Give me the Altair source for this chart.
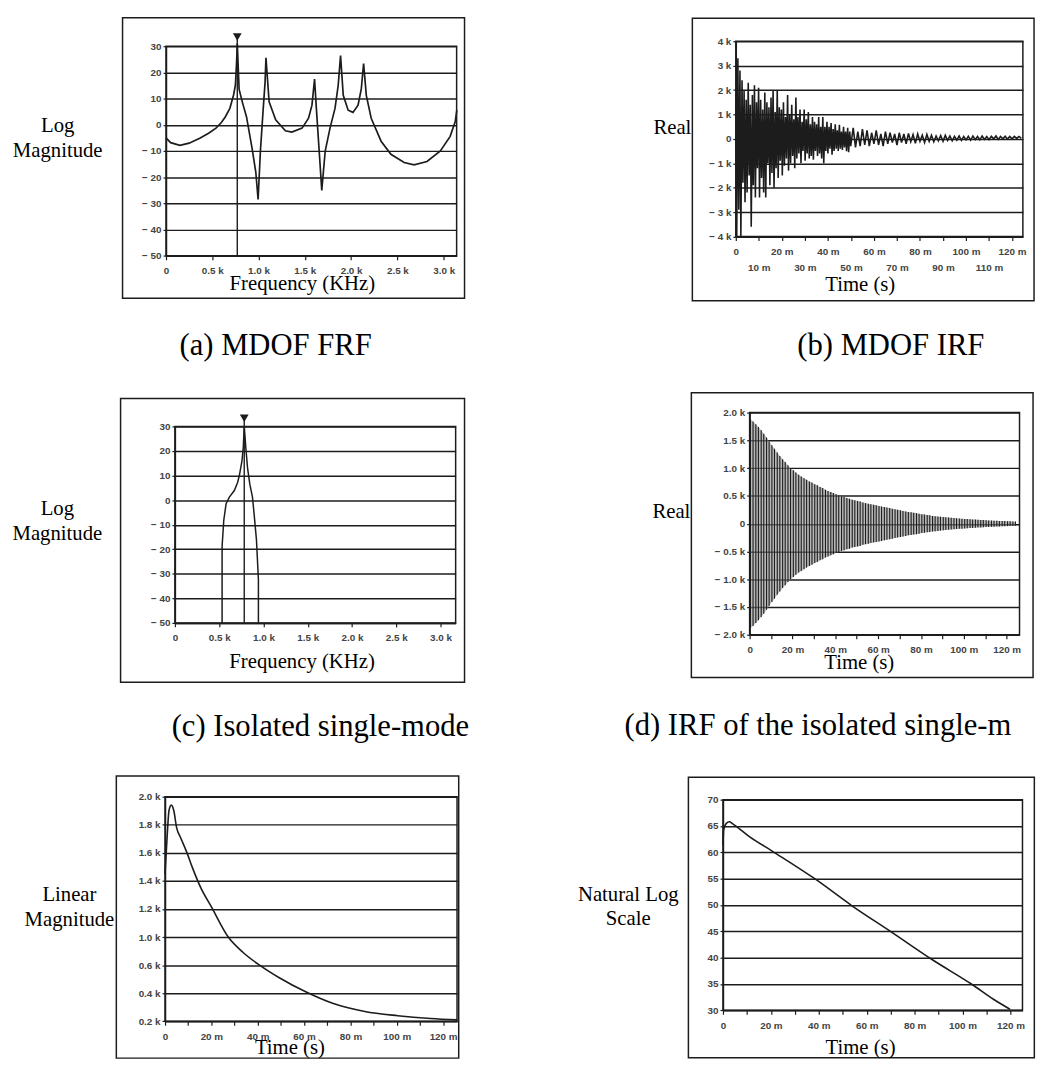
import altair as alt
import pandas as pd

# ---------------- data ----------------
# (a) MDOF FRF : frequency (kHz) vs log magnitude (dB)
frf_khz = [0.0, 0.05, 0.15, 0.25, 0.37, 0.46, 0.54, 0.6, 0.64, 0.69,
           0.73, 0.75, 0.764, 0.77, 0.79, 0.83, 0.87, 0.93, 0.97, 0.995,
           1.02, 1.05, 1.07, 1.08, 1.114, 1.185, 1.29, 1.36, 1.47, 1.54,
           1.577, 1.605, 1.625, 1.655, 1.683, 1.72, 1.772, 1.826, 1.86, 1.886,
           1.915, 1.968, 2.02, 2.075, 2.11, 2.135, 2.164, 2.217, 2.324, 2.43,
           2.573, 2.68, 2.82, 2.964, 3.07, 3.125, 3.142]
frf_db = [-5.0, -6.8, -7.8, -7.0, -5.0, -3.2, -1.3, 1.0, 3.0, 6.3,
          11.4, 15.2, 25.0, 31.0, 13.5, 8.0, 3.0, -9.0, -18.0, -28.5,
          -10.0, 6.0, 16.0, 25.6, 8.75, 1.9, -2.25, -2.75, -1.25, 2.5,
          7.5, 17.5, 6.0, -10.0, -25.0, -10.0, -1.25, 6.25, 15.0, 26.4,
          11.25, 5.6, 4.75, 7.5, 13.75, 23.4, 11.25, 2.5, -6.25, -11.25,
          -14.4, -15.25, -14.0, -10.0, -4.4, 1.25, 5.6]
frf_marker_khz = [0.77]
frf_marker_db = [33.5]

# (b) MDOF IRF : time (ms) vs real (k)
irf_ms = [0.0, 0.4, 0.9, 1.3, 1.8, 2.2, 2.7, 3.1, 3.6, 4.0,
          4.5, 4.9, 5.4, 5.8, 6.3, 6.7, 7.2, 7.6, 8.1, 8.5,
          9.0, 9.4, 9.9, 10.3, 10.8, 11.2, 11.7, 12.1, 12.6, 13.0,
          13.5, 13.9, 14.4, 14.8, 15.3, 15.7, 16.2, 16.6, 17.1, 17.5,
          18.0, 18.4, 18.9, 19.3, 19.8, 20.2, 20.7, 21.1, 21.6, 22.0,
          22.5, 22.9, 23.4, 23.8, 24.3, 24.7, 25.2, 25.6, 26.1, 26.5,
          27.0, 27.4, 27.9, 28.3, 28.8, 29.2, 29.7, 30.1, 30.6, 31.0,
          31.5, 31.9, 32.4, 32.8, 33.3, 33.7, 34.2, 34.6, 35.1, 35.5,
          36.0, 36.4, 36.9, 37.3, 37.8, 38.2, 38.7, 39.1, 39.6, 40.0,
          40.5, 40.9, 41.4, 41.8, 42.3, 42.7, 43.2, 43.6, 44.1, 44.5,
          45.0, 45.4, 45.9, 46.3, 46.8, 47.2, 47.7, 48.1, 48.6, 49.0,
          49.5, 49.9,
          51, 52, 53, 54, 55, 56, 57, 58, 59, 60,
          61, 62, 63, 64, 65, 66, 67, 68, 69, 70,
          71, 72, 73, 74, 75, 76, 77, 78, 79, 80,
          81, 82, 83, 84, 85, 86, 87, 88, 89, 90,
          91, 92, 93, 94, 95, 96, 97, 98, 99, 100,
          101, 102, 103, 104, 105, 106, 107, 108, 109, 110,
          111, 112, 113, 114, 115, 116, 117, 118, 119, 120,
          121, 122, 123, 124]
irf_k = [1.7, -4.0, 3.3, -2.9, 2.8, -4.0, 2.4, -1.8, 2.0, -2.6,
         1.6, -2.2, 2.3, -1.5, 1.4, -3.6, 1.8, -1.9, 2.2, -2.4,
         1.5, -1.2, 2.1, -2.4, 1.6, -1.6, 1.2, -2.2, 1.9, -2.4,
         1.5, -1.0, 1.3, -1.9, 1.7, -1.4, 2.0, -2.0, 1.1, -1.2,
         2.0, -1.6, 1.3, -0.9, 1.2, -1.5, 1.5, -1.1, 0.9, -0.8,
         1.8, -1.3, 1.0, -1.0, 1.4, -0.7, 0.8, -1.2, 1.7, -0.8,
         0.9, -0.6, 1.2, -1.0, 0.7, -0.5, 1.2, -0.9, 0.8, -0.6,
         1.1, -0.8, 0.6, -0.7, 0.9, -0.85, 0.7, -0.5, 0.6, -0.7,
         0.9, -0.6, 0.5, -0.8, 0.9, -1.0, 0.5, -0.5, 0.7, -0.6,
         0.5, -0.4, 0.65, -0.65, 0.4, -0.5, 0.6, -0.4, 0.35, -0.5,
         0.58, -0.4, 0.3, -0.45, 0.5, -0.35, 0.3, -0.5, 0.45, -0.55,
         0.3, -0.3,
         0.45, -0.35, 0.3, -0.3, 0.4, -0.25, 0.35, -0.3, 0.25, -0.2,
         0.35, -0.25, 0.2, -0.3, 0.3, -0.2, 0.25, -0.15, 0.2, -0.25,
         0.25, -0.15, 0.2, -0.2, 0.22, -0.12, 0.18, -0.18, 0.2, -0.1,
         0.15, -0.15, 0.18, -0.1, 0.15, -0.12, 0.12, -0.08, 0.14, -0.1,
         0.15, -0.06, 0.12, -0.08, 0.1, -0.05, 0.12, -0.06, 0.1, -0.04,
         0.11, -0.05, 0.12, -0.03, 0.1, -0.04, 0.12, -0.02, 0.1, -0.03,
         0.11, 0.0, 0.12, -0.02, 0.1, 0.0, 0.11, -0.01, 0.1, 0.0,
         0.1, 0.02, 0.1, 0.03]

# (c) Isolated single mode : frequency (kHz) vs log magnitude (dB)
sm_khz = [0.533, 0.533, 0.552, 0.578, 0.615, 0.671, 0.708, 0.727, 0.757, 0.772,
          0.783, 0.801, 0.82, 0.846, 0.876, 0.894, 0.921, 0.943, 0.943]
sm_db = [-50.0, -18.9, -8.2, -1.5, 1.2, 3.9, 7.2, 9.9, 15.9, 21.3,
         30.0, 21.3, 13.2, 6.5, 1.2, -5.5, -16.2, -32.3, -50.0]
sm_marker_khz = [0.783]
sm_marker_db = [33.3]

# (d) IRF of the isolated single mode : oscillation peaks, time (ms) and amplitude (k)
sm_irf_ms = [0.4, 1.6, 2.9, 4.1, 5.4, 6.6, 7.9, 9.1, 10.4, 11.6,
             12.9, 14.1, 15.4, 16.6, 17.9, 19.1, 20.4, 21.6, 22.9, 24.1,
             25.4, 26.6, 27.9, 29.1, 30.4, 31.6, 32.9, 34.1, 35.4, 36.6,
             37.9, 39.1, 40.4, 41.6, 42.9, 44.1, 45.4, 46.6, 47.9, 49.1,
             50.4, 51.6, 52.9, 54.1, 55.4, 56.6, 57.9, 59.1, 60.4, 61.6,
             62.9, 64.1, 65.4, 66.6, 67.9, 69.1, 70.4, 71.6, 72.9, 74.1,
             75.4, 76.6, 77.9, 79.1, 80.4, 81.6, 82.9, 84.1, 85.4, 86.6,
             87.9, 89.1, 90.4, 91.6, 92.9, 94.1, 95.4, 96.6, 97.9, 99.1,
             100.4, 101.6, 102.9, 104.1, 105.4, 106.6, 107.9, 109.1, 110.4, 111.6,
             112.9, 114.1, 115.4, 116.6, 117.9, 119.1, 120.4, 121.6, 122.9, 124.1]
sm_irf_amp_k = [1.88, 1.84, 1.79, 1.74, 1.68, 1.62, 1.55, 1.48, 1.41, 1.35,
                1.28, 1.22, 1.16, 1.11, 1.05, 1.00, 0.96, 0.92, 0.88, 0.85,
                0.82, 0.79, 0.76, 0.74, 0.71, 0.69, 0.66, 0.64, 0.61, 0.59,
                0.57, 0.55, 0.53, 0.51, 0.49, 0.48, 0.46, 0.45, 0.43, 0.42,
                0.41, 0.40, 0.38, 0.37, 0.36, 0.35, 0.34, 0.33, 0.32, 0.31,
                0.30, 0.29, 0.28, 0.27, 0.26, 0.25, 0.24, 0.23, 0.22, 0.21,
                0.205, 0.195, 0.19, 0.18, 0.17, 0.165, 0.155, 0.15, 0.14, 0.135,
                0.13, 0.125, 0.12, 0.115, 0.11, 0.105, 0.10, 0.097, 0.093, 0.09,
                0.086, 0.083, 0.08, 0.076, 0.073, 0.07, 0.067, 0.064, 0.061, 0.058,
                0.056, 0.054, 0.052, 0.05, 0.048, 0.046, 0.044, 0.042, 0.04, 0.039]

# (e) linear magnitude envelope : time (ms) vs magnitude (k, as labelled)
env_ms = [0.0, 1.0, 1.7, 2.7, 3.8, 5.0, 6.7, 9.5, 11.7, 15.2,
          20.2, 27.3, 33.7, 40.8, 49.3, 60.7, 72.0, 86.2, 100.4, 114.6, 126.0]
env_k = [1.45, 1.74, 1.90, 1.94, 1.90, 1.78, 1.71, 1.60, 1.50, 1.36,
         1.21, 1.00, 0.78, 0.60, 0.51, 0.41, 0.33, 0.27, 0.24, 0.22, 0.21]

# (f) natural log scale : time (ms) vs value
ln_ms = [0.0, 0.3, 1.4, 2.7, 4.1, 11.0, 20.7, 38.6, 53.7, 70.2, 87.4, 104.0, 112.9, 119.8]
ln_val = [61.4, 64.3, 65.5, 65.8, 65.4, 63.0, 60.2, 54.9, 49.9, 44.9, 39.6, 34.9, 32.1, 30.2]

# tick values
db_ticks = [-50, -40, -30, -20, -10, 0, 10, 20, 30]
khz_ticks = [0, 0.5, 1.0, 1.5, 2.0, 2.5, 3.0]
irf_ticks = [-4, -3, -2, -1, 0, 1, 2, 3, 4]
ms_ticks = [0, 10, 20, 30, 40, 50, 60, 70, 80, 90, 100, 110, 120]
sm_irf_ticks = [-2.0, -1.5, -1.0, -0.5, 0, 0.5, 1.0, 1.5, 2.0]
env_ticks = [0.2, 0.4, 0.6, 1.0, 1.2, 1.4, 1.6, 1.8, 2.0]
ln_ticks = [30, 35, 40, 45, 50, 55, 60, 65, 70]

# ---------------- styling / geometry (page pixels) ----------------
INK = "#1c1c1c"
LBL = "#444444"
SANS = "Liberation Sans"
SERIF = "Liberation Serif"

LEFT_FRAME = (8, 560)
RIGHT_FRAME = (560, 1043)
ROWS = [(8, 365), (365, 748), (748, 1055)]

GEOM = {
    "a": dict(L=165.7, T=37.7, W=294.3, H=212.3, fx=LEFT_FRAME, fy=ROWS[0], box=(121.7, 468.0, 9.0, 293.0)),
    "b": dict(L=740.0, T=32.3, W=290.7, H=197.7, fx=RIGHT_FRAME, fy=ROWS[0], box=(696.0, 1042.0, 9.0, 295.0)),
    "c": dict(L=175.0, T=418.3, W=284.3, H=199.0, fx=LEFT_FRAME, fy=ROWS[1], box=(120.0, 468.3, 390.0, 677.3)),
    "d": dict(L=755.0, T=405.0, W=273.3, H=225.0, fx=RIGHT_FRAME, fy=ROWS[1], box=(696.0, 1042.0, 385.0, 673.3)),
    "e": dict(L=164.3, T=789.3, W=295.7, H=227.4, fx=LEFT_FRAME, fy=ROWS[2], box=(115.0, 461.7, 768.3, 1054.0)),
    "f": dict(L=726.7, T=792.7, W=303.3, H=213.3, fx=RIGHT_FRAME, fy=ROWS[2], box=(691.7, 1042.0, 770.0, 1054.0)),
}

DB_EXPR = "datum.value < 0 ? '\u2212 ' + (-datum.value) : '' + datum.value"
KHZ_EXPR = "datum.value == 0 ? '0' : format(datum.value, '.1f') + ' k'"
IRF_Y_EXPR = "datum.value == 0 ? '0' : (datum.value < 0 ? '\u2212 ' + (-datum.value) + ' k' : datum.value + ' k')"
SM_Y_EXPR = ("datum.value == 0 ? '0' : (datum.value < 0 ? '\u2212 ' + format(-datum.value, '.1f') + ' k' "
             ": format(datum.value, '.1f') + ' k')")
ENV_Y_EXPR = "format(datum.value, '.1f') + ' k'"
MS_EXPR = "datum.value == 0 ? '0' : (datum.value % 20 == 0 ? datum.value + ' m' : '')"
MS_STAGGER_EXPR = "datum.value == 0 ? '0' : (datum.value % 20 == 0 ? datum.value + ' m' : ['', datum.value + ' m'])"
LN_EXPR = "'' + datum.value"


def one():
    return alt.Data(values=[{"k": 0}])


def y_axis(values, expr):
    return alt.Axis(values=values, labelExpr=expr, title=None, grid=True, gridColor=INK, gridWidth=1.5,
                    domain=True, domainColor=INK, domainWidth=1.5, ticks=True, tickColor=INK,
                    tickSize=3, tickWidth=1.2, labelPadding=2, labelFont=SANS, labelFontSize=10,
                    labelFontWeight="bold", labelColor=LBL, labelFlush=False, labelOverlap=False)


def x_axis(values, expr, line_height=None):
    kw = dict(values=values, labelExpr=expr, title=None, grid=False, domain=True, domainColor=INK,
              domainWidth=1.5, ticks=True, tickColor=INK, tickSize=4, tickWidth=1.2, labelPadding=6,
              labelFont=SANS, labelFontSize=10, labelFontWeight="bold", labelColor=LBL,
              labelFlush=False, labelOverlap=False)
    if line_height is not None:
        kw["labelLineHeight"] = line_height
    return alt.Axis(**kw)


def decor(g):
    L, T = g["L"], g["T"]
    fx0, fx1 = g["fx"]
    fy0, fy1 = g["fy"]
    frame = alt.Chart(one()).mark_rect(opacity=0).encode(
        x=alt.value(fx0 - L), x2=alt.value(fx1 - L), y=alt.value(fy0 - T), y2=alt.value(fy1 - T))
    bx0, bx1, by0, by1 = g["box"]
    box = alt.Chart(one()).mark_rect(fillOpacity=0, stroke=INK, strokeWidth=1.5).encode(
        x=alt.value(bx0 - L), x2=alt.value(bx1 - L), y=alt.value(by0 - T), y2=alt.value(by1 - T))
    return [frame, box]


def text(g, s, px, py, size, align="center", limit=None):
    kw = dict(align=align, baseline="alphabetic", font=SERIF, fontSize=size, color="black",
              lineBreak="\n", lineHeight=25)
    if limit is not None:
        kw["limit"] = limit
        kw["ellipsis"] = " "
    return alt.Chart(one()).mark_text(**kw).encode(
        x=alt.value(px - g["L"]), y=alt.value(py - g["T"]), text=alt.value(s))


def panel(g, layers):
    return alt.layer(*decor(g), *layers).properties(width=g["W"], height=g["H"])


def q(domain):
    return alt.Scale(domain=domain, nice=False, zero=False)


def spacer():
    # (almost) zero-size anchor so each grid cell is placed by its frame, not by its plot origin
    return (alt.Chart(one()).mark_rect(opacity=0)
            .encode(x=alt.value(0), x2=alt.value(0), y=alt.value(0), y2=alt.value(0))
            .properties(width=0.01, height=0.01,
                        view=alt.ViewBackground(stroke="transparent", strokeWidth=0)))


def cell(p):
    return alt.vconcat(spacer(), p, spacing=0)


# ---- (a)
g = GEOM["a"]
ax = alt.X("khz:Q", scale=q([0, 3.14]), axis=x_axis(khz_ticks, KHZ_EXPR))
ay = alt.Y("db:Q", scale=q([-50, 30]), axis=y_axis(db_ticks, DB_EXPR))
a_mk = pd.DataFrame({"khz": frf_marker_khz, "db": frf_marker_db, "floor": [-50] * len(frf_marker_khz)})
pa = panel(g, [
    alt.Chart(pd.DataFrame({"khz": frf_khz, "db": frf_db})).mark_line(color=INK, strokeWidth=1.7).encode(x=ax, y=ay),
    alt.Chart(a_mk).mark_rule(color=INK, strokeWidth=1.4).encode(x=ax, y=ay, y2=alt.Y2("floor")),
    alt.Chart(a_mk).mark_point(shape="triangle-down", filled=True, size=80, color=INK, opacity=1).encode(x=ax, y=ay),
    text(g, "Log\nMagnitude", 56, 125, 21),
    text(g, "Frequency (KHz)", 303.8, 285, 21),
    text(g, "(a) MDOF FRF", 276.7, 350, 31),
])

# ---- (b)
g = GEOM["b"]
bx = alt.X("ms:Q", scale=q([0, 124.7]), axis=x_axis(ms_ticks, MS_STAGGER_EXPR, 16.5))
by = alt.Y("k:Q", scale=q([-4, 4]), axis=y_axis(irf_ticks, IRF_Y_EXPR))
pb = panel(g, [
    alt.Chart(pd.DataFrame({"ms": irf_ms, "k": irf_k})).mark_line(color=INK, strokeWidth=1.6).encode(x=bx, y=by),
    text(g, "Real", 695, 126.7, 21, align="right"),
    text(g, "Time (s)", 866, 285, 21),
    text(g, "(b) MDOF IRF", 897, 350, 31),
])

# ---- (c)
g = GEOM["c"]
cx = alt.X("khz:Q", scale=q([0, 3.17]), axis=x_axis(khz_ticks, KHZ_EXPR))
cy = alt.Y("db:Q", scale=q([-50, 30]), axis=y_axis(db_ticks, DB_EXPR))
c_mk = pd.DataFrame({"khz": sm_marker_khz, "db": sm_marker_db, "floor": [-50] * len(sm_marker_khz)})
pc = panel(g, [
    alt.Chart(pd.DataFrame({"khz": sm_khz, "db": sm_db})).mark_line(color=INK, strokeWidth=1.5).encode(x=cx, y=cy),
    alt.Chart(c_mk).mark_rule(color=INK, strokeWidth=1.4).encode(x=cx, y=cy, y2=alt.Y2("floor")),
    alt.Chart(c_mk).mark_point(shape="triangle-down", filled=True, size=80, color=INK, opacity=1).encode(x=cx, y=cy),
    text(g, "Log\nMagnitude", 56, 508, 21),
    text(g, "Frequency (KHz)", 303.8, 663.3, 21),
    text(g, "(c) Isolated single-mode", 171.7, 731.7, 31, align="left"),
])

# ---- (d)
g = GEOM["d"]
dx = alt.X("ms:Q", scale=q([0, 126]), axis=x_axis(ms_ticks, MS_EXPR))
dy = alt.Y("amp:Q", scale=q([-2, 2]), axis=y_axis(sm_irf_ticks, SM_Y_EXPR))
d_src = alt.Chart(pd.DataFrame({"ms": sm_irf_ms, "amp": sm_irf_amp_k})).transform_calculate(neg="-datum.amp")
pd_ = panel(g, [
    d_src.mark_area(color="#8a8a8a", opacity=0.6).encode(x=dx, y=dy, y2=alt.Y2("neg")),
    d_src.mark_rule(color=INK, strokeWidth=1.1).encode(x=dx, y=dy, y2=alt.Y2("neg")),
    text(g, "Real", 695, 511.7, 21, align="right"),
    text(g, "Time (s)", 866, 665, 21),
    text(g, "(d) IRF of the isolated single-mode", 628.3, 731.7, 31, align="left", limit=1043 - 628.3),
])

# ---- (e)
g = GEOM["e"]
ex = alt.X("ms:Q", scale=q([0, 126]), axis=x_axis(ms_ticks, MS_EXPR))
ey = alt.Y("k:Q",
           scale=alt.Scale(domain=env_ticks, range=[g["H"] * (1 - i / 8) for i in range(len(env_ticks))],
                           nice=False, zero=False),
           axis=y_axis(env_ticks, ENV_Y_EXPR))
pe = panel(g, [
    alt.Chart(pd.DataFrame({"ms": env_ms, "k": env_k})).mark_line(
        color=INK, strokeWidth=1.6, interpolate="monotone").encode(x=ex, y=ey),
    text(g, "Linear\nMagnitude", 67.5, 895, 21),
    text(g, "Time (s)", 290.8, 1050, 21),
])

# ---- (f)
g = GEOM["f"]
fx = alt.X("ms:Q", scale=q([0, 125]), axis=x_axis(ms_ticks, MS_EXPR))
fy = alt.Y("v:Q", scale=q([30, 70]), axis=y_axis(ln_ticks, LN_EXPR))
pf = panel(g, [
    alt.Chart(pd.DataFrame({"ms": ln_ms, "v": ln_val})).mark_line(
        color=INK, strokeWidth=1.6, interpolate="monotone").encode(x=fx, y=fy),
    text(g, "Natural Log\nScale", 630.8, 895, 21),
    text(g, "Time (s)", 866, 1050, 21),
])

row1 = alt.hconcat(spacer(), cell(pa), cell(pb), spacing=0)
row2 = alt.hconcat(spacer(), cell(pc), cell(pd_), spacing=0)
row3 = alt.hconcat(spacer(), cell(pe), cell(pf), spacing=0)

chart = (
    alt.vconcat(row1, row2, row3, spacing=0)
    .properties(padding=0, background="white")
    .configure_view(stroke=INK, strokeWidth=1.5)
)

chart.save("out.html", embed_options={"renderer": "svg", "actions": False})
